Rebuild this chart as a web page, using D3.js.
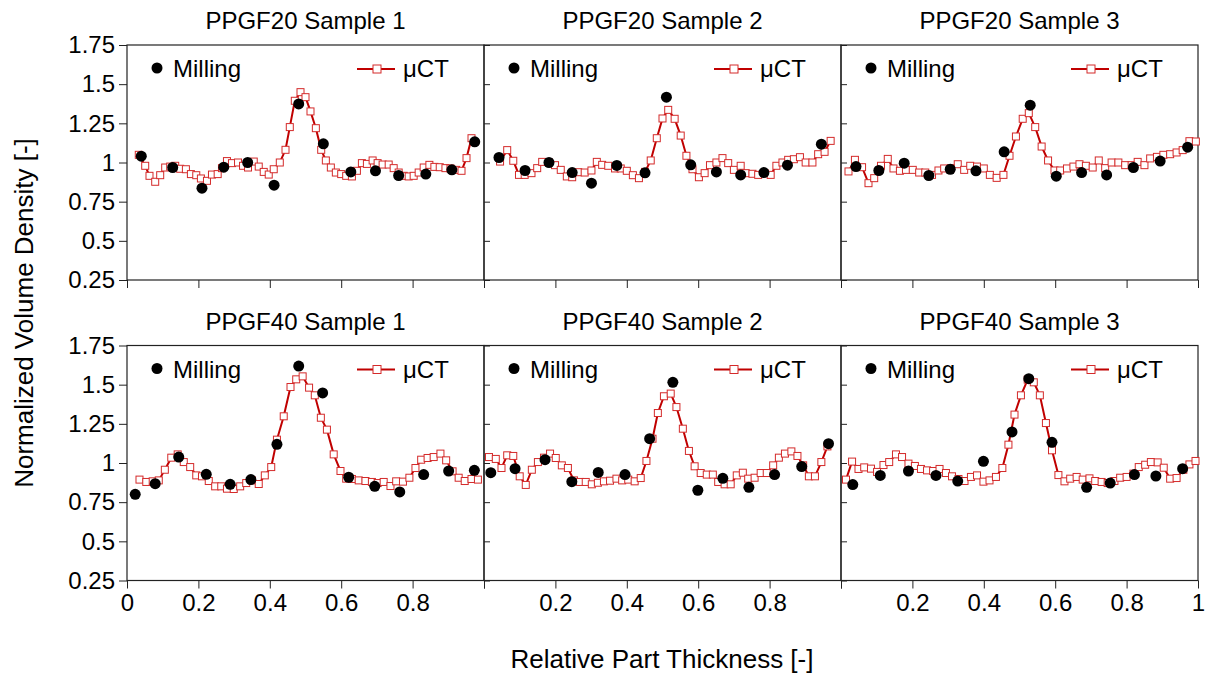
<!DOCTYPE html>
<html>
<head>
<meta charset="utf-8">
<script src="https://cdn.jsdelivr.net/npm/d3@7"></script>
<style>
  body { margin: 0; background: #fff; }
  text { font-family: Arial, "Liberation Sans", sans-serif; fill: #000; }
</style>
</head>
<body>
<div class="svg-container"></div>
<script>
// Panel titles, row by row
const panelTitles = [
    'PPGF20 Sample 1', 'PPGF20 Sample 2', 'PPGF20 Sample 3',
    'PPGF40 Sample 1', 'PPGF40 Sample 2', 'PPGF40 Sample 3'
];

// Ticks
const yTicks = [0.25, 0.5, 0.75, 1, 1.25, 1.5, 1.75];
const xTicks = [0, 0.2, 0.4, 0.6, 0.8, 1];
const xLabelTicks = [
    [0, 0.2, 0.4, 0.6, 0.8],
    [0.2, 0.4, 0.6, 0.8],
    [0.2, 0.4, 0.6, 0.8, 1]
];

// Milling measurements [thickness, density]
const mill20s1 = [[0.040,1.040],[0.128,0.968],[0.210,0.836],[0.271,0.970],[0.338,1.000],[0.412,0.855],[0.481,1.374],[0.550,1.119],[0.627,0.940],[0.696,0.947],[0.761,0.917],[0.837,0.926],[0.910,0.953],[0.974,1.132]];
const mill20s2 = [[0.042,1.032],[0.115,0.949],[0.182,1.000],[0.247,0.936],[0.301,0.868],[0.372,0.981],[0.451,0.934],[0.511,1.417],[0.579,0.985],[0.651,0.940],[0.719,0.921],[0.784,0.936],[0.850,0.983],[0.945,1.117]];
const mill20s3 = [[0.042,0.974],[0.106,0.949],[0.177,0.996],[0.246,0.917],[0.306,0.957],[0.378,0.947],[0.457,1.068],[0.530,1.366],[0.603,0.913],[0.674,0.936],[0.744,0.921],[0.819,0.968],[0.894,1.009],[0.971,1.098]];
const mill40s1 = [[0.023,0.800],[0.079,0.868],[0.145,1.038],[0.222,0.928],[0.289,0.864],[0.347,0.894],[0.420,1.119],[0.481,1.619],[0.548,1.447],[0.621,0.909],[0.694,0.851],[0.764,0.815],[0.831,0.926],[0.901,0.949],[0.973,0.953]];
const mill40s2 = [[0.019,0.938],[0.087,0.964],[0.171,1.021],[0.246,0.881],[0.320,0.940],[0.395,0.926],[0.464,1.155],[0.529,1.515],[0.599,0.826],[0.669,0.902],[0.742,0.845],[0.814,0.926],[0.890,0.977],[0.965,1.123]];
const mill40s3 = [[0.033,0.862],[0.110,0.921],[0.189,0.949],[0.266,0.921],[0.327,0.885],[0.399,1.011],[0.479,1.198],[0.526,1.538],[0.591,1.132],[0.688,0.845],[0.754,0.872],[0.822,0.926],[0.882,0.917],[0.957,0.964]];

// μCT profiles [thickness, density]
const uct20s1 = [[0.033,1.049],[0.051,0.979],[0.063,0.915],[0.079,0.877],[0.093,0.919],[0.107,0.968],[0.121,0.974],[0.135,0.979],[0.149,0.960],[0.165,0.957],[0.179,0.926],[0.194,0.919],[0.207,0.898],[0.224,0.883],[0.238,0.923],[0.254,0.926],[0.266,0.964],[0.280,1.009],[0.294,0.996],[0.311,1.000],[0.325,0.979],[0.339,0.968],[0.355,1.006],[0.369,0.974],[0.383,0.940],[0.397,0.923],[0.411,0.957],[0.428,1.000],[0.444,1.081],[0.456,1.226],[0.470,1.394],[0.486,1.449],[0.500,1.417],[0.514,1.326],[0.529,1.219],[0.544,1.081],[0.557,1.013],[0.571,0.968],[0.585,0.936],[0.600,0.926],[0.614,0.915],[0.630,0.911],[0.644,0.947],[0.658,0.996],[0.672,0.991],[0.688,1.013],[0.702,0.996],[0.716,0.987],[0.733,0.987],[0.747,0.964],[0.761,0.936],[0.775,0.915],[0.789,0.911],[0.803,0.915],[0.817,0.936],[0.831,0.968],[0.847,0.985],[0.861,0.972],[0.876,0.970],[0.892,0.964],[0.906,0.962],[0.922,0.953],[0.937,0.947],[0.951,1.028],[0.965,1.155]];
const uct20s2 = [[0.045,1.006],[0.065,1.079],[0.082,1.011],[0.098,0.921],[0.114,0.921],[0.133,0.932],[0.149,0.964],[0.163,1.004],[0.182,1.000],[0.199,0.983],[0.215,0.953],[0.232,0.911],[0.247,0.906],[0.264,0.938],[0.282,0.936],[0.301,0.949],[0.316,1.004],[0.331,0.985],[0.348,0.979],[0.367,0.962],[0.383,0.962],[0.400,0.947],[0.417,0.919],[0.434,0.900],[0.451,0.940],[0.467,1.013],[0.484,1.155],[0.500,1.281],[0.516,1.336],[0.534,1.279],[0.551,1.172],[0.567,1.043],[0.584,0.957],[0.602,0.906],[0.618,0.932],[0.633,0.983],[0.651,1.000],[0.668,1.028],[0.684,0.996],[0.700,0.953],[0.719,0.979],[0.733,0.932],[0.752,0.928],[0.768,0.921],[0.786,0.932],[0.803,0.921],[0.819,0.979],[0.836,1.000],[0.852,1.017],[0.868,1.021],[0.885,1.034],[0.901,1.000],[0.920,1.000],[0.936,1.053],[0.954,1.068],[0.971,1.138]];
const uct20s3 = [[0.021,0.943],[0.039,1.017],[0.059,0.970],[0.077,0.868],[0.093,0.900],[0.112,0.979],[0.131,1.023],[0.147,0.962],[0.165,0.947],[0.182,0.953],[0.201,0.953],[0.219,0.936],[0.236,0.936],[0.255,0.921],[0.273,0.949],[0.289,0.962],[0.308,0.964],[0.327,0.989],[0.345,0.953],[0.362,0.979],[0.381,0.974],[0.400,0.962],[0.417,0.921],[0.436,0.902],[0.455,0.921],[0.472,1.043],[0.490,1.166],[0.509,1.279],[0.526,1.315],[0.544,1.226],[0.562,1.102],[0.580,1.013],[0.598,0.949],[0.614,0.949],[0.633,0.962],[0.651,0.974],[0.668,0.989],[0.686,0.979],[0.705,0.968],[0.722,1.013],[0.740,0.964],[0.758,1.000],[0.777,1.000],[0.796,0.983],[0.814,0.983],[0.831,1.004],[0.850,0.983],[0.866,1.026],[0.885,1.036],[0.903,1.049],[0.922,1.053],[0.940,1.064],[0.957,1.079],[0.976,1.136],[0.994,1.134]];
const uct40s1 = [[0.035,0.894],[0.054,0.879],[0.072,0.883],[0.089,0.889],[0.106,0.957],[0.124,1.034],[0.142,1.055],[0.159,1.006],[0.177,0.974],[0.194,0.921],[0.210,0.915],[0.229,0.885],[0.247,0.851],[0.264,0.851],[0.280,0.836],[0.299,0.834],[0.317,0.851],[0.334,0.872],[0.350,0.889],[0.369,0.866],[0.386,0.921],[0.404,0.974],[0.420,1.149],[0.439,1.298],[0.458,1.485],[0.474,1.534],[0.492,1.553],[0.510,1.481],[0.526,1.432],[0.543,1.289],[0.560,1.213],[0.579,1.055],[0.598,0.949],[0.614,0.900],[0.630,0.898],[0.649,0.889],[0.668,0.885],[0.686,0.879],[0.702,0.872],[0.719,0.879],[0.738,0.853],[0.754,0.883],[0.773,0.881],[0.791,0.906],[0.808,0.968],[0.824,1.021],[0.842,1.032],[0.859,1.038],[0.878,1.060],[0.894,1.017],[0.912,0.947],[0.929,0.906],[0.946,0.885],[0.965,0.898],[0.983,0.894]];
const uct40s2 = [[0.014,1.038],[0.033,1.026],[0.049,0.968],[0.065,1.049],[0.082,1.045],[0.100,0.915],[0.117,0.860],[0.134,0.957],[0.151,1.006],[0.168,1.034],[0.185,1.060],[0.201,1.032],[0.218,0.985],[0.235,0.968],[0.252,0.889],[0.269,0.879],[0.285,0.879],[0.302,0.864],[0.319,0.874],[0.336,0.883],[0.353,0.887],[0.371,0.900],[0.387,0.889],[0.404,0.894],[0.422,0.883],[0.439,0.904],[0.455,1.013],[0.472,1.155],[0.487,1.319],[0.504,1.426],[0.523,1.443],[0.539,1.357],[0.557,1.219],[0.574,1.077],[0.590,0.979],[0.607,0.936],[0.624,0.926],[0.641,0.926],[0.656,0.879],[0.674,0.864],[0.691,0.864],[0.708,0.921],[0.725,0.938],[0.740,0.900],[0.758,0.906],[0.775,0.936],[0.792,0.936],[0.810,0.985],[0.826,1.034],[0.843,1.060],[0.861,1.074],[0.878,1.045],[0.894,0.985],[0.910,0.915],[0.927,0.915],[0.945,1.006],[0.962,1.106]];
const uct40s3 = [[0.014,0.894],[0.031,1.009],[0.049,0.962],[0.065,0.972],[0.084,0.964],[0.101,0.943],[0.119,0.987],[0.135,1.006],[0.154,1.055],[0.171,1.038],[0.189,0.996],[0.207,0.981],[0.224,0.962],[0.241,0.953],[0.258,0.949],[0.276,0.962],[0.294,0.936],[0.311,0.915],[0.329,0.898],[0.346,0.885],[0.364,0.911],[0.381,0.921],[0.399,0.881],[0.416,0.889],[0.434,0.911],[0.452,0.968],[0.469,1.117],[0.486,1.309],[0.504,1.432],[0.523,1.532],[0.540,1.515],[0.557,1.432],[0.574,1.255],[0.591,1.081],[0.609,0.923],[0.626,0.883],[0.642,0.900],[0.660,0.911],[0.677,0.894],[0.696,0.902],[0.712,0.885],[0.730,0.879],[0.747,0.872],[0.766,0.885],[0.782,0.906],[0.800,0.911],[0.819,0.932],[0.834,0.974],[0.852,0.989],[0.868,1.006],[0.887,1.004],[0.904,0.970],[0.922,0.900],[0.940,0.904],[0.959,0.957],[0.976,0.991],[0.993,1.013]];

const millingSets = [mill20s1, mill20s2, mill20s3, mill40s1, mill40s2, mill40s3];
const uctSets = [uct20s1, uct20s2, uct20s3, uct40s1, uct40s2, uct40s3];

/**
 * Chart Manager
 *          Draws the 2 x 3 grid of density profiles
 */
const chartManager = (() => {
    // Constant
    const SCREEN = { WIDTH: 1210, HEIGHT: 676 };
    const PANEL = { LEFTS: [127, 484, 841], TOPS: [45, 345.5], WIDTH: 357, HEIGHT: 235 };
    const COLOR = { LINE: '#c00000', SQUARE: '#d42a2a', AXIS: '#222' };
    const FONT = 24;
    const TITLE_FONT = 26;

    const x = d3.scaleLinear().domain([0, 1]).range([0, PANEL.WIDTH]);
    const y = d3.scaleLinear().domain([0.25, 1.75]).range([PANEL.HEIGHT, 0]);

    /**
     * Init SVG
     * @return {Object} svg
     */
    const initSVG = () => {
        return d3.select('.svg-container').append('svg')
                 .attr('width', SCREEN.WIDTH)
                 .attr('height', SCREEN.HEIGHT)
                 .style('display', 'block');
    };

    /**
     * Style axis group (font + colour), drop the domain path
     * @param {Object} g
     */
    const styleAxis = (g) => {
        g.attr('font-size', FONT).attr('font-family', 'Arial, "Liberation Sans", sans-serif');
        g.select('.domain').remove();
        g.selectAll('.tick line').attr('stroke', COLOR.AXIS);
        g.selectAll('.tick text').attr('fill', '#000');
    };

    /**
     * Draw Axes for one panel
     */
    const drawAxes = (g, row, col) => {
        if (col === 0) {
            g.append('g')
             .call(d3.axisLeft(y).tickValues(yTicks).tickSize(8).tickPadding(4).tickFormat(d => String(d)))
             .call(styleAxis);
        } else {
            g.append('g')
             .call(d3.axisRight(y).tickValues(yTicks).tickSize(6).tickFormat(''))
             .call(styleAxis);
        }

        let labels = row === 1 ? xLabelTicks[col] : [];
        g.append('g')
         .attr('transform', `translate(0, ${PANEL.HEIGHT})`)
         .call(d3.axisBottom(x).tickValues(xTicks).tickSize(8).tickPadding(5)
                 .tickFormat(d => labels.includes(d) ? String(d) : ''))
         .call(styleAxis);

        // frame
        g.append('rect')
         .attr('width', PANEL.WIDTH)
         .attr('height', PANEL.HEIGHT)
         .attr('fill', 'none')
         .attr('stroke', COLOR.AXIS)
         .attr('stroke-width', 1.2);
    };

    /**
     * Draw Legend
     */
    const drawLegend = (g) => {
        g.append('circle')
         .attr('cx', 30).attr('cy', 23).attr('r', 5.5)
         .attr('fill', '#000');
        g.append('text')
         .attr('x', 46).attr('y', 32)
         .attr('font-size', FONT)
         .text('Milling');

        g.append('line')
         .attr('x1', 230).attr('x2', 268)
         .attr('y1', 24).attr('y2', 24)
         .attr('stroke', COLOR.LINE).attr('stroke-width', 2);
        g.append('rect')
         .attr('x', 246).attr('y', 20).attr('width', 8).attr('height', 8)
         .attr('fill', '#fff').attr('stroke', COLOR.SQUARE).attr('stroke-width', 1);
        g.append('text')
         .attr('x', 276).attr('y', 32)
         .attr('font-size', FONT)
         .text('μCT');
    };

    /**
     * Draw one panel
     */
    const drawPanel = (svg, i) => {
        let row = Math.floor(i / 3), col = i % 3;
        let g = svg.append('g')
                   .attr('transform', `translate(${PANEL.LEFTS[col]}, ${PANEL.TOPS[row]})`);

        g.append('text')
         .attr('x', PANEL.WIDTH / 2)
         .attr('y', -16)
         .attr('text-anchor', 'middle')
         .attr('font-size', FONT)
         .text(panelTitles[i]);

        drawAxes(g, row, col);
        drawLegend(g);

        let line = d3.line().x(d => x(d[0])).y(d => y(d[1]));
        g.append('path')
         .datum(uctSets[i])
         .attr('d', line)
         .attr('fill', 'none')
         .attr('stroke', COLOR.LINE)
         .attr('stroke-width', 2);

        g.selectAll('.uct')
         .data(uctSets[i])
         .enter()
         .append('rect')
         .attr('class', 'uct')
         .attr('x', d => x(d[0]) - 3.5)
         .attr('y', d => y(d[1]) - 3.5)
         .attr('width', 7)
         .attr('height', 7)
         .attr('fill', '#fff')
         .attr('stroke', COLOR.SQUARE)
         .attr('stroke-width', 1);

        g.selectAll('.mill')
         .data(millingSets[i])
         .enter()
         .append('circle')
         .attr('class', 'mill')
         .attr('cx', d => x(d[0]))
         .attr('cy', d => y(d[1]))
         .attr('r', 5.5)
         .attr('fill', '#000');
    };

    const init = () => {
        let svg = initSVG();
        panelTitles.forEach((t, i) => drawPanel(svg, i));

        svg.append('text')
           .attr('transform', `translate(33, 313) rotate(-90)`)
           .attr('text-anchor', 'middle')
           .attr('font-size', TITLE_FONT)
           .text('Normalized Volume Density [-]');

        svg.append('text')
           .attr('x', 662)
           .attr('y', 668)
           .attr('text-anchor', 'middle')
           .attr('font-size', TITLE_FONT)
           .text('Relative Part Thickness [-]');
    };

    return { init: init };
})();

chartManager.init();
</script>
</body>
</html>
